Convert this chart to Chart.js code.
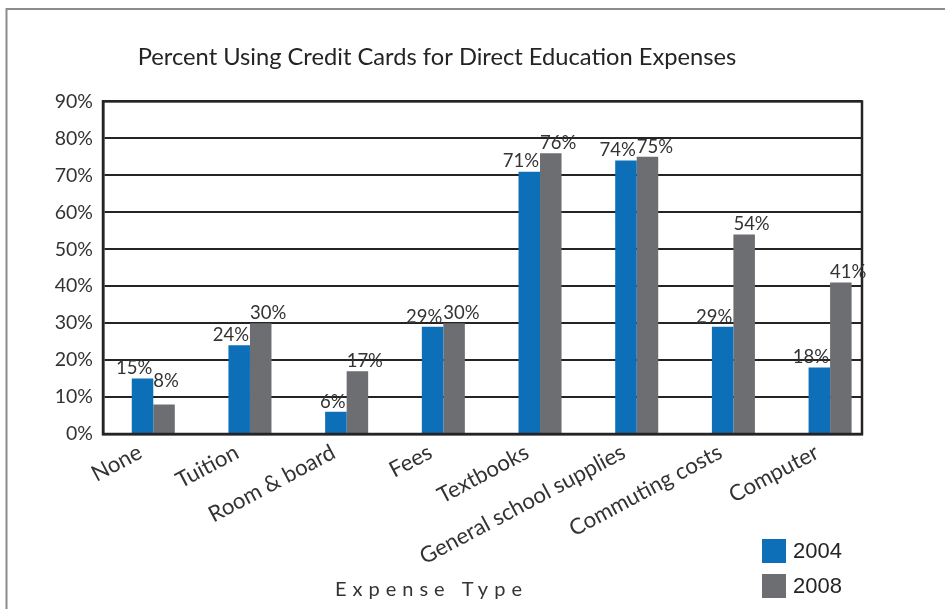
<!DOCTYPE html>
<html>
<head>
<meta charset="utf-8">
<title>Percent Using Credit Cards for Direct Education Expenses</title>
<script src="https://cdn.jsdelivr.net/npm/chart.js@4.4.1/dist/chart.umd.min.js"></script>
<style>
  body { margin: 0; background: #fff; }
  #box { position: relative; width: 945px; height: 609px; }
</style>
</head>
<body>
<div id="box"><canvas id="grafico" width="945" height="609"></canvas></div>
<script>
// ------------------------------------DATA------------------------------------
const categories = ['None', 'Tuition', 'Room & board', 'Fees', 'Textbooks',
  'General school supplies', 'Commuting costs', 'Computer'];
const years = ['2004', '2008'];
const values2004 = [15, 24, 6, 29, 71, 74, 29, 18];
const values2008 = [8, 30, 17, 30, 76, 75, 54, 41];
const yTicks = [0, 10, 20, 30, 40, 50, 60, 70, 80, 90];
const xTitle = 'Expense Type';
// ------------------------------------DATA------------------------------------

const INK = '#262324';
const BLUE = '#0d6fb8';
const GREY = '#6d6e72';

Chart.defaults.font.family = 'Lato, "Open Sans", sans-serif';
Chart.defaults.color = INK;

// bars sit on a linear x scale so the groups can be spaced freely inside the frame
function toPoints(values) {
  return values.map((v, i) => ({ x: i, y: v }));
}

// page frame, plot frame, value labels, axis title and legend
const extras = {
  id: 'extras',
  beforeDraw(chart) {
    const ctx = chart.ctx;
    ctx.save();
    ctx.strokeStyle = '#8c8c8c';
    ctx.lineWidth = 2;
    ctx.beginPath();
    ctx.moveTo(945, 9);
    ctx.lineTo(6.5, 9);
    ctx.lineTo(6.5, 609);
    ctx.stroke();
    ctx.restore();
  },
  afterDatasetsDraw(chart, args, opts) {
    const ctx = chart.ctx;
    const a = chart.chartArea;
    ctx.save();
    ctx.strokeStyle = INK;
    ctx.lineWidth = 2.5;
    ctx.strokeRect(a.left, a.top, a.right - a.left, a.bottom - a.top);

    // value labels: 2004 hugs the right edge of its bar, 2008 the left edge
    ctx.font = '18.5px Lato';
    ctx.fillStyle = '#333';
    ctx.textBaseline = 'bottom';
    chart.data.datasets.forEach((ds, d) => {
      const meta = chart.getDatasetMeta(d);
      meta.data.forEach((bar, i) => {
        const half = bar.width / 2;
        const lift = (opts.lift[d] && opts.lift[d][i]) || 0;
        const y = bar.y - 1 - lift;
        if (d === 0) {
          ctx.textAlign = 'right';
          ctx.fillText(ds.data[i].y + '%', bar.x + half - 1, y);
        } else {
          ctx.textAlign = 'left';
          ctx.fillText(ds.data[i].y + '%', bar.x - half, y);
        }
      });
    });

    // spaced-out axis title
    ctx.font = '20px Lato';
    ctx.fillStyle = '#333';
    ctx.textAlign = 'left';
    ctx.textBaseline = 'alphabetic';
    ctx.letterSpacing = '6px';
    ctx.fillText(xTitle, 335, 596);
    ctx.letterSpacing = '0px';

    // legend
    ctx.font = '22px "Liberation Sans", Arial, sans-serif';
    ctx.textBaseline = 'middle';
    chart.data.datasets.forEach((ds, d) => {
      const top = 539 + d * 35;
      ctx.fillStyle = ds.backgroundColor;
      ctx.fillRect(762, top, 24, 24);
      ctx.fillStyle = INK;
      ctx.fillText(ds.label, 793, top + 13);
    });
    ctx.restore();
  }
};

const chart = new Chart(document.getElementById('grafico'), {
  type: 'bar',
  data: {
    datasets: [
      { label: years[0], data: toPoints(values2004), backgroundColor: BLUE },
      { label: years[1], data: toPoints(values2008), backgroundColor: GREY }
    ]
  },
  options: {
    responsive: false,
    devicePixelRatio: 1,
    animation: false,
    events: [],
    layout: { padding: { left: 12, right: 83, top: 0, bottom: 0 } },
    categoryPercentage: 0.445,
    barPercentage: 1,
    plugins: {
      legend: { display: false },
      tooltip: { enabled: false },
      title: {
        display: true,
        text: 'Percent Using Credit Cards for Direct Education Expenses',
        font: { size: 23.7, weight: 'normal' },
        color: INK,
        padding: { top: 43, bottom: 30 }
      },
      extras: { lift: [[], [13]] }
    },
    scales: {
      x: {
        type: 'linear',
        offset: false,
        min: -0.52,
        max: 7.33,
        grid: { display: false },
        border: { display: true, color: INK, width: 2.5 },
        afterBuildTicks: (s) => { s.ticks = categories.map((c, i) => ({ value: i })); },
        afterFit: (s) => { s.height = 175; },
        ticks: {
          autoSkip: false,
          minRotation: 28,
          maxRotation: 28,
          padding: -3,
          labelOffset: -13,
          font: { size: 22.2 },
          color: '#333',
          callback: (v) => categories[v]
        }
      },
      y: {
        min: 0,
        max: 90,
        grid: { color: INK, lineWidth: 2, drawTicks: false },
        border: { display: true, color: INK, width: 2.5 },
        afterBuildTicks: (s) => { s.ticks = yTicks.map(v => ({ value: v })); },
        afterFit: (s) => { s.width = 91; },
        ticks: {
          padding: 10,
          font: { size: 19.5 },
          color: '#333',
          callback: (v) => v + '%'
        }
      }
    }
  },
  plugins: [extras]
});
</script>
</body>
</html>
